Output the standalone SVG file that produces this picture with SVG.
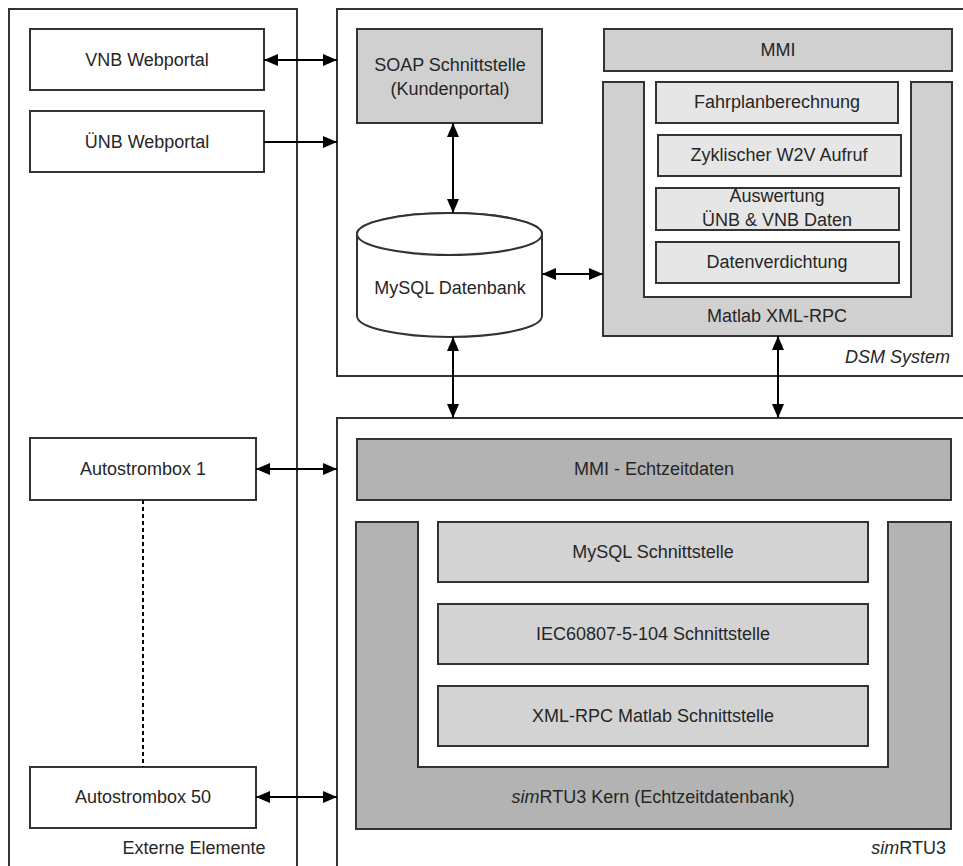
<svg xmlns="http://www.w3.org/2000/svg" width="963" height="866" viewBox="0 0 963 866">
<style>
  .frame{fill:#fff;stroke:#333;stroke-width:2}
  .box{stroke:#333;stroke-width:2}
  .white{fill:#fff}
  .g1{fill:#d0d0d0}
  .g2{fill:#e6e6e6}
  .g3{fill:#b3b3b3}
  .g4{fill:#d3d3d3}
  text{font-family:"Liberation Sans",Arial,sans-serif;font-size:18px;fill:#262626;text-anchor:middle;dominant-baseline:central}
  .it{font-style:italic}
  .end{text-anchor:end}
  .conn path{fill:none;stroke:#000;stroke-width:2}
  .dash{stroke-dasharray:4 3}
</style>
<defs>
  <marker id="ah" markerUnits="userSpaceOnUse" markerWidth="14" markerHeight="12" viewBox="0 0 14 12" refX="14" refY="6" orient="auto-start-reverse">
    <path d="M0,0 L14,6 L0,12 Z" fill="#000"/>
  </marker>
</defs>
<rect width="963" height="866" fill="#fff"/>

<g id="externe-elemente">
  <rect class="frame" x="9" y="9" width="288" height="880"/>
  <text x="194" y="848">Externe Elemente</text>
</g>
<g id="dsm-system">
  <rect class="frame" x="337" y="9" width="640" height="367"/>
  <text class="it end" x="950" y="357">DSM System</text>
</g>
<g id="simrtu3">
  <rect class="frame" x="337" y="418" width="640" height="470"/>
  <text class="end" x="946" y="848"><tspan class="it">sim</tspan>RTU3</text>
</g>

<g id="vnb-webportal">
  <rect class="box white" x="30" y="29" width="234" height="61"/>
  <text x="147" y="60">VNB Webportal</text>
</g>
<g id="unb-webportal">
  <rect class="box white" x="30" y="111" width="234" height="61"/>
  <text x="147" y="142">ÜNB Webportal</text>
</g>
<g id="autostrombox-1">
  <rect class="box white" x="30" y="438" width="226" height="62"/>
  <text x="143" y="469">Autostrombox 1</text>
</g>
<g id="autostrombox-50">
  <rect class="box white" x="30" y="767" width="226" height="61"/>
  <text x="143" y="797">Autostrombox 50</text>
</g>

<g id="soap">
  <rect class="box g1" x="357" y="29" width="185" height="94"/>
  <text x="450" y="65">SOAP Schnittstelle</text>
  <text x="450" y="89">(Kundenportal)</text>
</g>
<g id="mysql-datenbank">
  <path class="box white" d="M357,234 V316 A92.5,21 0 0 0 542,316 V234 A92.5,21 0 0 0 357,234 Z"/>
  <ellipse class="box white" cx="449.5" cy="234" rx="92.5" ry="21"/>
  <text x="450" y="288">MySQL Datenbank</text>
</g>
<g id="mmi">
  <rect class="box g1" x="604" y="29" width="348" height="42"/>
  <text x="778" y="50">MMI</text>
</g>
<g id="matlab-xml-rpc">
  <path class="box g1" d="M603,82 H644 V297 H911 V82 H952 V336 H603 Z"/>
  <text x="777" y="316">Matlab XML-RPC</text>
</g>
<g id="fahrplanberechnung">
  <rect class="box g2" x="656" y="82" width="242" height="41"/>
  <text x="777" y="102">Fahrplanberechnung</text>
</g>
<g id="zyklischer">
  <rect class="box g2" x="658" y="135" width="243" height="41"/>
  <text x="779" y="155">Zyklischer W2V Aufruf</text>
</g>
<g id="auswertung">
  <rect class="box g2" x="656" y="188" width="243" height="42"/>
  <text x="777" y="196">Auswertung</text>
  <text x="777" y="220">ÜNB &amp; VNB Daten</text>
</g>
<g id="datenverdichtung">
  <rect class="box g2" x="656" y="242" width="243" height="41"/>
  <text x="777" y="262">Datenverdichtung</text>
</g>

<g id="mmi-echtzeitdaten">
  <rect class="box g3" x="357" y="439" width="594" height="61"/>
  <text x="654" y="469">MMI - Echtzeitdaten</text>
</g>
<g id="simrtu3-kern">
  <path class="box g3" d="M356,522 H418 V767 H888 V522 H951 V829 H356 Z"/>
  <text x="653" y="797"><tspan class="it">sim</tspan>RTU3 Kern (Echtzeitdatenbank)</text>
</g>
<g id="mysql-schnittstelle">
  <rect class="box g4" x="438" y="522" width="430" height="60"/>
  <text x="653" y="552">MySQL Schnittstelle</text>
</g>
<g id="iec-schnittstelle">
  <rect class="box g4" x="438" y="604" width="430" height="60"/>
  <text x="653" y="634">IEC60807-5-104 Schnittstelle</text>
</g>
<g id="xml-rpc-schnittstelle">
  <rect class="box g4" x="438" y="686" width="430" height="60"/>
  <text x="653" y="716">XML-RPC Matlab Schnittstelle</text>
</g>

<g id="connectors" class="conn">
  <path d="M264,60 H337" marker-start="url(#ah)" marker-end="url(#ah)"/>
  <path d="M264,142 H337" marker-end="url(#ah)"/>
  <path d="M453,123 V213" marker-start="url(#ah)" marker-end="url(#ah)"/>
  <path d="M542,274 H603" marker-start="url(#ah)" marker-end="url(#ah)"/>
  <path d="M453,337 V418" marker-start="url(#ah)" marker-end="url(#ah)"/>
  <path d="M778,336 V418" marker-start="url(#ah)" marker-end="url(#ah)"/>
  <path d="M256,469 H337" marker-start="url(#ah)" marker-end="url(#ah)"/>
  <path d="M256,797 H337" marker-start="url(#ah)" marker-end="url(#ah)"/>
  <path class="dash" d="M143,500 V767"/>
</g>
</svg>
